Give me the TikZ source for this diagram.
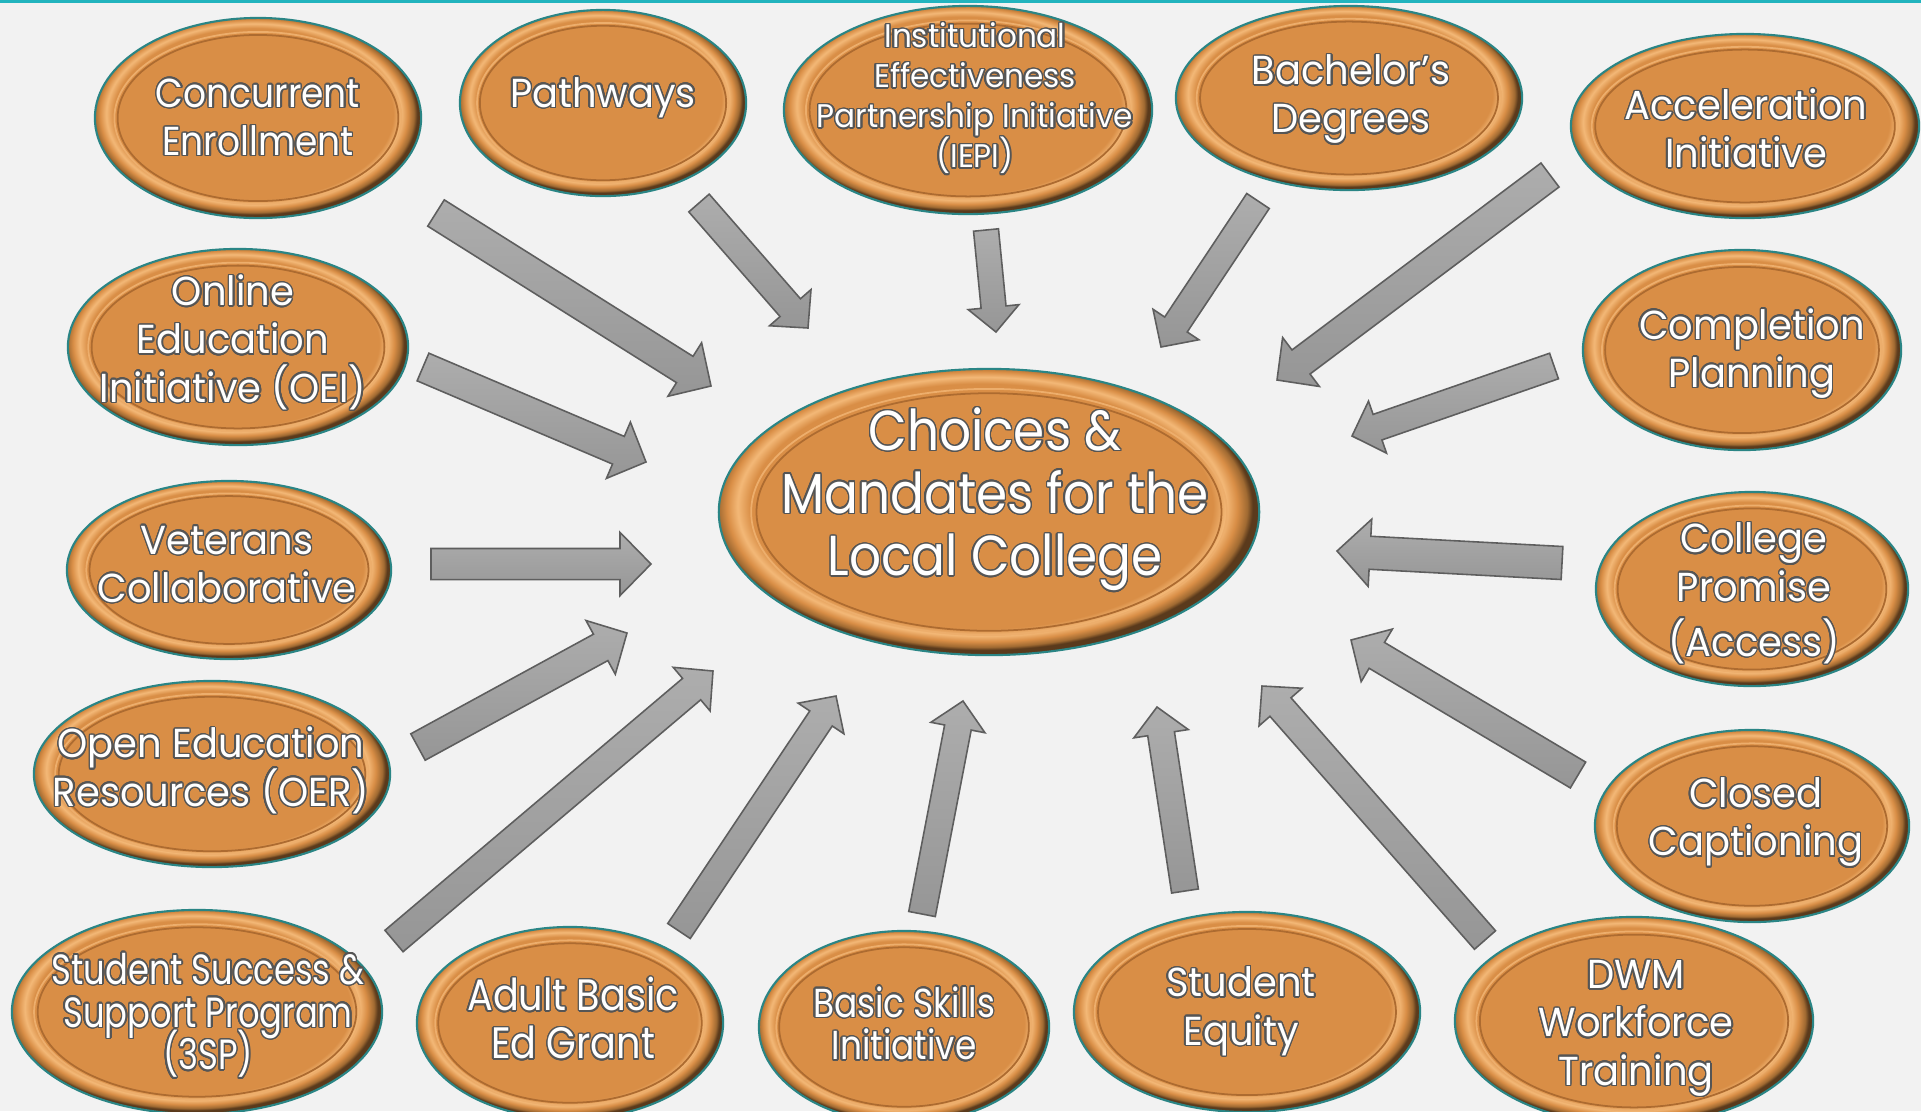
\documentclass[tikz,border=0pt]{standalone}
\usepackage{fontspec}
\usepackage{contour}
\contourlength{0.4pt}
\contournumber{24}
\setmainfont[FakeStretch=0.95]{Poppins}
\newfontfamily\cndA[FakeStretch=0.89]{Poppins}
\newfontfamily\cndB[FakeStretch=0.80]{Poppins}
\newfontfamily\cndC[FakeStretch=0.87]{Poppins}
\newfontfamily\cndD[FakeStretch=0.85]{Poppins}
\usetikzlibrary{calc,shapes.geometric}
\definecolor{bg}{HTML}{F2F2F2}
\definecolor{topline}{HTML}{22B4BE}
\definecolor{og}{HTML}{D98E46}
\definecolor{ogL}{HTML}{F3B877}
\definecolor{ogD}{HTML}{A06A32}
\definecolor{ogD2}{HTML}{5A3A1C}
\definecolor{tealedge}{HTML}{2A8585}
\definecolor{groove}{HTML}{AD6B30}
\definecolor{grooveL}{HTML}{EDAE6C}
\definecolor{arrtop}{HTML}{ADADAD}
\definecolor{arrbot}{HTML}{969696}
\definecolor{arredge}{HTML}{5E5E5E}
\definecolor{olgray}{HTML}{555555}
\pgfdeclareradialshading{bevel}{\pgfpoint{-1.2bp}{1.8bp}}{color(0bp)=(og); color(21.4bp)=(og); color(22.6bp)=(ogL); color(23.6bp)=(og); color(24.5bp)=(ogD); color(25bp)=(ogD2); color(50bp)=(ogD2)}
\newcommand\ol[1]{\contour{olgray}{#1}}
\newcommand\fs[2]{\fontsize{#1}{#2}\selectfont\lineskiplimit=-100pt\relax}
\tikzset{
  bubble/.style={ellipse, draw=tealedge, line width=0.6pt, shading=bevel, inner sep=0pt, outer sep=0pt},
  grooveline/.style={draw=groove, line width=0.5pt},
  groovelight/.style={draw=grooveL, line width=0.5pt},
  lbl/.style={text=white, align=center, inner sep=0pt, font=\fs{11.5}{13.7}},
  blockarrow/.style={draw=arredge, line width=0.45pt, top color=arrtop, bottom color=arrbot, line join=miter},
}
% name, x, y, rx, ry
\newcommand\bub[5]{%
  \node[bubble, minimum width={#4*0.02cm}, minimum height={#5*0.02cm}] (#1) at (#2,#3) {};
  \draw[groovelight] (#2,#3) ellipse [x radius={#4*0.0088cm}, y radius={#5*0.0086cm}];
  \draw[grooveline] (#2,#3) ellipse [x radius={#4*0.0086cm}, y radius={#5*0.0083cm}];
}
% shaft width (px), from, to
\newcommand\barrow[3]{%
  \pgfmathsetlengthmacro\sw{#1*0.005cm}%
  \pgfmathsetlengthmacro\hw{#1*0.0102cm}%
  \pgfmathsetlengthmacro\hl{#1*0.0100cm}%
  \draw[blockarrow] ($(#2)!\sw!90:(#3)$) -- ($(#3)!\hl!(#2)!\sw!90:(#3)$)
    -- ($(#3)!\hl!(#2)!\hw!90:(#3)$) -- (#3) -- ($(#3)!\hl!(#2)!\hw!-90:(#3)$)
    -- ($(#3)!\hl!(#2)!\sw!-90:(#3)$) -- ($(#2)!\sw!-90:(#3)$) -- cycle;
}
\begin{document}
\begin{tikzpicture}[x=0.01cm, y=-0.01cm]
\useasboundingbox (0,0) rectangle (1921,1111);
\clip (0,0) rectangle (1921,1111);
\fill[bg] (0,0) rectangle (1921,1111);
\fill[topline] (0,0) rectangle (1921,3);

% bubbles
\bub{e1}{258}{118}{163}{100}
\bub{e2}{603}{103}{143}{93}
\bub{e3}{968}{110}{184}{104}
\bub{e4}{1349}{98}{173}{92}
\bub{e5}{1745}{126}{174}{92}
\bub{e6}{238}{347}{170}{98}
\bub{e7}{1742}{350}{159}{100}
\bub{e8}{229}{570}{162}{89}
\bub{e0}{989}{512}{270}{143}
\bub{e10}{1752}{589}{156}{97}
\bub{e11}{212}{774}{178}{93}
\bub{e12}{1752}{826}{157}{96}
\bub{e13}{197}{1012}{185}{102}
\bub{e14}{570}{1023}{153}{96}
\bub{e15}{904}{1027}{145}{96}
\bub{e16}{1247}{1012}{173}{100}
\bub{e17}{1634}{1021}{179}{104}

% labels
\node[lbl, font=\cndA\fs{11.5}{13.7}] (t1) at (258,118) {\ol{Concurrent}\\\ol{Enrollment}};
\node[lbl] (t2) at (603,98) {\ol{Pathways}};
\node[lbl, font=\fs{9.3}{11.4}] (t3) at (975,99) {\ol{Institutional}\\\ol{Effectiveness}\\\ol{Partnership Initiative}\\\ol{(IEPI)}};
\node[lbl] (t4) at (1351,100) {\ol{Bachelor’s}\\\ol{Degrees}};
\node[lbl] (t5) at (1746,129) {\ol{Acceleration}\\\ol{Initiative}};
\node[lbl] (t6) at (233,343) {\ol{Online}\\\ol{Education}\\\ol{Initiative (OEI)}};
\node[lbl] (t7) at (1752,354) {\ol{Completion}\\\ol{Planning}};
\node[lbl] (t8) at (227,565) {\ol{Veterans}\\\ol{Collaborative}};
\node[lbl, font=\cndA\fs{16}{17.8}] (t0) at (995,500) {\ol{Choices \&}\\\ol{Mandates for the}\\\ol{Local College}};
\node[lbl] (t10) at (1754,594) {\ol{College}\\\ol{Promise}\\[2pt]\ol{(Access)}};
\node[lbl] (t11) at (211,771) {\ol{Open Education}\\\ol{Resources (OER)}};
\node[lbl] (t12) at (1756,823) {\ol{Closed}\\\ol{Captioning}};
\node[lbl, font=\cndB\fs{12}{12.2}] (t13) at (208,1016) {\ol{Student Success \&}\\\ol{Support Program}\\\ol{(3SP)}};
\node[lbl, font=\cndC\fs{12.5}{13.7}] (t14) at (573,1019) {\ol{Adult Basic}\\\ol{Ed Grant}};
\node[lbl, font=\cndD\fs{11.5}{12.2}] (t15) at (904,1024) {\ol{Basic Skills}\\\ol{Initiative}};
\node[lbl] (t16) at (1241,1012) {\ol{Student}\\\ol{Equity}};
\node[lbl] (t17) at (1636,1029) {\ol{DWM}\\\ol{Workforce}\\\ol{Training}};

% arrow end points
\coordinate (a1s) at (436,213);  \coordinate (a1e) at (711,386);
\coordinate (a2s) at (699,203);  \coordinate (a2e) at (808,328);
\coordinate (a3s) at (986,230);  \coordinate (a3e) at (996,332);
\coordinate (a4s) at (1258,201); \coordinate (a4e) at (1161,347);
\coordinate (a5s) at (1550,175); \coordinate (a5e) at (1277,380);
\coordinate (a6s) at (423,367);  \coordinate (a6e) at (646,462);
\coordinate (a7s) at (1554,366); \coordinate (a7e) at (1352,436);
\coordinate (a8s) at (431,564);  \coordinate (a8e) at (651,564);
\coordinate (a9s) at (1562,563); \coordinate (a9e) at (1337,551);
\coordinate (a10s) at (418,747); \coordinate (a10e) at (627,633);
\coordinate (a11s) at (1578,775);\coordinate (a11e) at (1351,640);
\coordinate (a12s) at (394,941); \coordinate (a12e) at (713,671);
\coordinate (a13s) at (679,931); \coordinate (a13e) at (836,696);
\coordinate (a14s) at (922,914); \coordinate (a14e) at (963,701);
\coordinate (a15s) at (1185,891);\coordinate (a15e) at (1157,707);
\coordinate (a16s) at (1485,940);\coordinate (a16e) at (1262,686);

\barrow{31}{a1s}{a1e}
\barrow{27}{a2s}{a2e}
\barrow{25}{a3s}{a3e}
\barrow{27}{a4s}{a4e}
\barrow{30}{a5s}{a5e}
\barrow{30}{a6s}{a6e}
\barrow{27}{a7s}{a7e}
\barrow{31}{a8s}{a8e}
\barrow{33}{a9s}{a9e}
\barrow{30}{a10s}{a10e}
\barrow{30}{a11s}{a11e}
\barrow{28}{a12s}{a12e}
\barrow{27}{a13s}{a13e}
\barrow{27}{a14s}{a14e}
\barrow{27}{a15s}{a15e}
\barrow{28}{a16s}{a16e}
\end{tikzpicture}
\end{document}
